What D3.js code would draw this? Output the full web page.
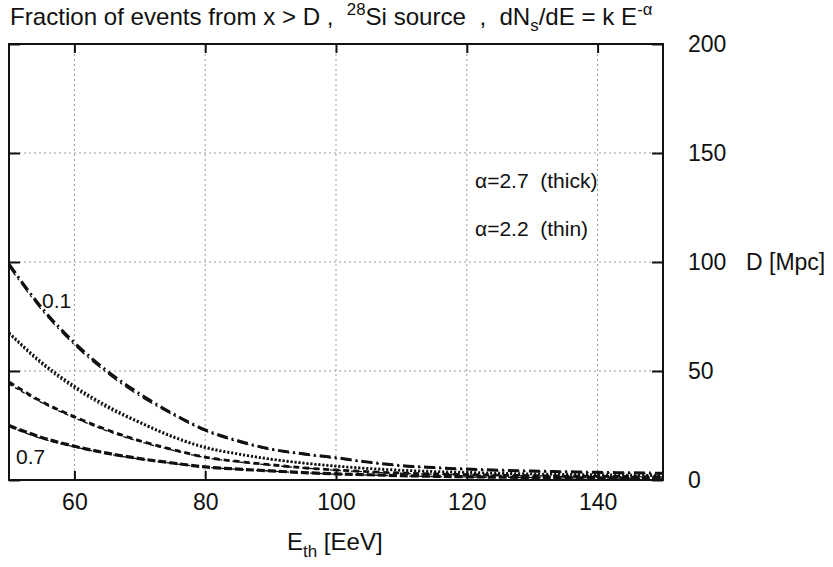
<!DOCTYPE html>
<html lang="en">
<head>
    <meta charset="UTF-8">
    <title>Fraction of events from x > D</title>
    <script src="https://d3js.org/d3.v7.min.js"></script>
    <style>
        body { margin: 0; background: #fff; }
        text { font-family: "Liberation Sans", Arial, sans-serif; fill: #111; white-space: pre; }
        .tick text { font-size: 23px; }
        .grid line { stroke: #999; stroke-width: 1; stroke-dasharray: 2,3; }
    </style>
</head>
<body>
    <div id="chart"></div>
    <script>
        // E_th sample points [EeV]
        const energy = [50, 55, 60, 65, 70, 75, 80, 85, 90, 95, 100, 105, 110, 115, 120, 125, 130, 135, 140, 145, 150];

        // D [Mpc], alpha = 2.7 (thick)
        const thick01 = [99, 79, 63, 50, 39.5, 30.5, 23, 18, 14.2, 12, 10.2, 8.2, 6.6, 5.7, 5, 4.5, 4.1, 3.8, 3.5, 3.3, 3.1];
        const thick03 = [67.5, 54, 43, 34, 26.5, 20, 15, 12, 9.6, 7.8, 6.4, 5.3, 4.5, 3.9, 3.5, 3.1, 2.8, 2.6, 2.4, 2.2, 2.1];
        const thick05 = [45, 36, 29, 23, 18, 14, 10.5, 8.5, 7, 5.6, 4.6, 3.8, 3.2, 2.8, 2.5, 2.2, 2, 1.8, 1.7, 1.6, 1.5];
        const thick07 = [25, 19.5, 15.5, 12.3, 9.8, 7.8, 6, 5, 4.2, 3.4, 2.8, 2.4, 2, 1.7, 1.5, 1.3, 1.2, 1.1, 1, 0.9, 0.9];

        // D [Mpc], alpha = 2.2 (thin)
        const thin01 = [98, 78, 62, 49, 38.5, 30, 22.5, 17.5, 13.9, 11.7, 9.9, 8, 6.4, 5.5, 4.8, 4.3, 3.9, 3.6, 3.3, 3.1, 2.9];
        const thin03 = [67, 53, 42, 33, 26, 19.5, 14.6, 11.7, 9.4, 7.6, 6.2, 5.1, 4.3, 3.7, 3.3, 2.9, 2.6, 2.4, 2.2, 2, 1.9];
        const thin05 = [44, 35.5, 28.5, 22.5, 17.6, 13.7, 10.3, 8.3, 6.8, 5.5, 4.5, 3.7, 3.1, 2.7, 2.4, 2.1, 1.9, 1.7, 1.6, 1.5, 1.4];
        const thin07 = [24.5, 19, 15.2, 12, 9.6, 7.6, 5.9, 4.9, 4.1, 3.3, 2.7, 2.3, 1.9, 1.6, 1.4, 1.2, 1.1, 1, 0.9, 0.8, 0.8];

        const xTicks = [60, 80, 100, 120, 140];
        const yTicks = [0, 50, 100, 150, 200];

        const series = [
            {values: thick01, dash: "11,4,2,4", width: 3},
            {values: thick03, dash: "2,2", width: 2.8},
            {values: thick05, dash: "6,4", width: 2.8},
            {values: thick07, dash: "8,3", width: 3.2},
            {values: thin01, dash: "11,4,2,4", width: 1.3},
            {values: thin03, dash: "2,2", width: 1.3},
            {values: thin05, dash: "4,3", width: 1.3},
            {values: thin07, dash: "6,3", width: 1.3}
        ];

        const W = 833, H = 567;
        const pLeft = 9, pRight = 663, pTop = 44, pBottom = 480;

        const svg = d3.select("#chart").append("svg")
            .attr("width", W)
            .attr("height", H);

        const x = d3.scaleLinear().domain([50, 150]).range([pLeft, pRight]);
        const y = d3.scaleLinear().domain([0, 200]).range([pBottom, pTop]);

        // grid
        const grid = svg.append("g").attr("class", "grid");
        grid.selectAll(".gx")
            .data(xTicks)
            .enter().append("line")
            .attr("x1", d => x(d)).attr("x2", d => x(d))
            .attr("y1", pTop).attr("y2", pBottom);
        grid.selectAll(".gy")
            .data(yTicks.filter(d => d > 0 && d < 200))
            .enter().append("line")
            .attr("x1", pLeft).attr("x2", pRight)
            .attr("y1", d => y(d)).attr("y2", d => y(d));

        // curves
        const line = d3.line()
            .x((d, i) => x(energy[i]))
            .y(d => y(d))
            .curve(d3.curveMonotoneX);

        svg.append("g")
            .selectAll("path")
            .data(series)
            .enter().append("path")
            .attr("d", d => line(d.values))
            .attr("fill", "none")
            .attr("stroke", "#111")
            .attr("stroke-width", d => d.width)
            .attr("stroke-dasharray", d => d.dash);

        // axes (ticks pointing inwards)
        const axisStyle = g => {
            g.select(".domain").remove();
            g.selectAll(".tick line").attr("stroke", "#111").attr("stroke-width", 2);
        };

        svg.append("g")
            .attr("transform", `translate(0,${pBottom})`)
            .call(d3.axisBottom(x).tickValues(xTicks).tickSizeInner(-9).tickSizeOuter(0).tickPadding(14))
            .call(axisStyle);

        svg.append("g")
            .attr("transform", `translate(0,${pTop})`)
            .call(d3.axisTop(x).tickValues(xTicks).tickSizeInner(-9).tickSizeOuter(0).tickFormat(""))
            .call(axisStyle);

        svg.append("g")
            .attr("transform", `translate(${pRight},0)`)
            .call(d3.axisRight(y).tickValues(yTicks).tickSizeInner(-11).tickSizeOuter(0).tickPadding(25))
            .call(axisStyle);

        svg.append("g")
            .attr("transform", `translate(${pLeft},0)`)
            .call(d3.axisLeft(y).tickValues(yTicks).tickSizeInner(-11).tickSizeOuter(0).tickFormat(""))
            .call(axisStyle);

        svg.selectAll(".tick text").attr("font-family", null).attr("font-size", null).attr("fill", "#111");

        // frame
        svg.append("rect")
            .attr("x", pLeft).attr("y", pTop)
            .attr("width", pRight - pLeft).attr("height", pBottom - pTop)
            .attr("fill", "none")
            .attr("stroke", "#111")
            .attr("stroke-width", 2);

        // title (condensed to the width of the original)
        const title = svg.append("text")
            .attr("x", 0).attr("y", 0)
            .style("font-size", "23px");
        title.append("tspan").text("Fraction of events from x > D ,  ");
        title.append("tspan").attr("dy", -10).style("font-size", "16px").text("28");
        title.append("tspan").attr("dy", 10).text("Si source  ,  dN");
        title.append("tspan").attr("dy", 6).style("font-size", "16px").text("s");
        title.append("tspan").attr("dy", -6).text("/dE = k E");
        title.append("tspan").attr("dy", -10).style("font-size", "16px").text("-\u03b1");
        const tw = title.node().getComputedTextLength();
        title.attr("transform", `translate(10,25) scale(${643 / tw},1)`);

        // axis labels
        const xl = svg.append("text")
            .attr("x", 287).attr("y", 550)
            .style("font-size", "24px");
        xl.append("tspan").text("E");
        xl.append("tspan").attr("dy", 7).style("font-size", "17px").text("th");
        xl.append("tspan").attr("dy", -7).text(" [EeV]");

        svg.append("text")
            .attr("x", 746).attr("y", y(100))
            .attr("dy", "0.35em")
            .style("font-size", "23px")
            .text("D [Mpc]");

        // annotations
        svg.append("text")
            .attr("x", 475).attr("y", 188)
            .style("font-size", "21px")
            .text("\u03b1=2.7  (thick)");
        svg.append("text")
            .attr("x", 475).attr("y", 236)
            .style("font-size", "21px")
            .text("\u03b1=2.2  (thin)");

        svg.append("text")
            .attr("x", 42).attr("y", 308)
            .style("font-size", "21px")
            .text("0.1");
        svg.append("text")
            .attr("x", 16).attr("y", 464)
            .style("font-size", "21px")
            .text("0.7");
    </script>
</body>
</html>
